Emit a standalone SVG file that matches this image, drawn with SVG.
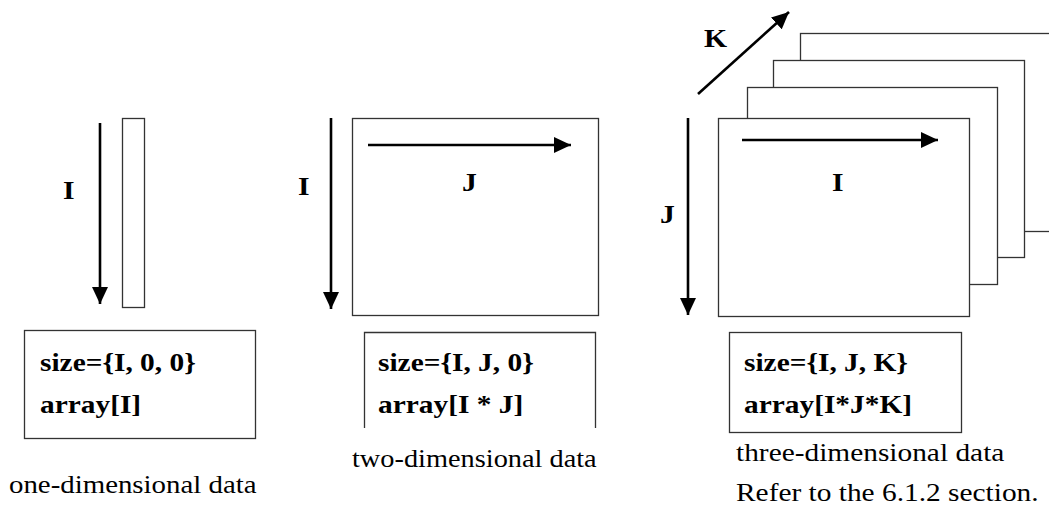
<svg xmlns="http://www.w3.org/2000/svg" width="1049" height="509" viewBox="0 0 1049 509">
<style>
  .frame { fill: #fff; stroke: #333; stroke-width: 1.3; }
  .open { fill: none; stroke: #333; stroke-width: 1.3; }
  .arrow { stroke: #000; stroke-width: 2.6; fill: none; marker-end: url(#head); }
  .b { font-family: "Liberation Serif", "Times New Roman", serif; font-weight: bold; font-size: 26px; fill: #000; }
  .r { font-family: "Liberation Serif", "Times New Roman", serif; font-size: 26px; fill: #000; }
</style>
<defs>
  <marker id="head" markerUnits="userSpaceOnUse" markerWidth="17" markerHeight="16" refX="17" refY="8" orient="auto">
    <path d="M0,0 L17,8 L0,16 z" fill="#000"/>
  </marker>
</defs>
<rect width="1049" height="509" fill="#fff"/>

<g id="one-dimensional">
  <rect class="frame" x="122.5" y="118.5" width="22" height="189"/>
  <text class="b" transform="translate(63,199) scale(1.14,1)">I</text>
  <rect class="frame" x="24.5" y="330.5" width="231" height="108"/>
  <text class="b" transform="translate(40,371) scale(1.13,1)">size={I, 0, 0}</text>
  <text class="b" transform="translate(40,413) scale(1.13,1)">array[I]</text>
  <text class="r" transform="translate(9,493) scale(1.11,1)">one-dimensional data</text>
</g>

<g id="two-dimensional">
  <rect class="frame" x="352.5" y="118.5" width="246" height="197"/>
  <text class="b" transform="translate(298,195) scale(1.14,1)">I</text>
  <text class="b" transform="translate(462,191) scale(1.14,1)">J</text>
  <path class="open" d="M364.5,428 V332.5 H595.5 V428"/>
  <text class="b" transform="translate(378,371) scale(1.13,1)">size={I, J, 0}</text>
  <text class="b" transform="translate(378,413) scale(1.13,1)">array[I * J]</text>
  <text class="r" transform="translate(352,467) scale(1.09,1)">two-dimensional data</text>
</g>

<g id="three-dimensional">
  <rect class="frame" x="800.5" y="33.5" width="300" height="198"/>
  <rect class="frame" x="773.5" y="60.5" width="251" height="197"/>
  <rect class="frame" x="747.5" y="87.5" width="250" height="197"/>
  <rect class="frame" x="718.5" y="118.5" width="251" height="198"/>
  <text class="b" transform="translate(704,47) scale(1.14,1)">K</text>
  <text class="b" transform="translate(832,191) scale(1.14,1)">I</text>
  <text class="b" transform="translate(660,223) scale(1.14,1)">J</text>
  <rect class="frame" x="729.5" y="332.5" width="232" height="100"/>
  <text class="b" transform="translate(744,371) scale(1.13,1)">size={I, J, K}</text>
  <text class="b" transform="translate(744,413) scale(1.13,1)">array[I*J*K]</text>
  <text class="r" transform="translate(736,461) scale(1.13,1)">three-dimensional data</text>
  <text class="r" transform="translate(736,501) scale(1.13,1)">Refer to the 6.1.2 section.</text>
</g>

<g id="connectors">
  <line class="arrow" x1="100" y1="123" x2="100" y2="304"/>
  <line class="arrow" x1="331" y1="118" x2="331" y2="309"/>
  <line class="arrow" x1="368" y1="145" x2="571" y2="145"/>
  <line class="arrow" x1="698" y1="94" x2="789" y2="12"/>
  <line class="arrow" x1="742" y1="140" x2="938" y2="140"/>
  <line class="arrow" x1="688" y1="118" x2="688" y2="315"/>
</g>
</svg>
